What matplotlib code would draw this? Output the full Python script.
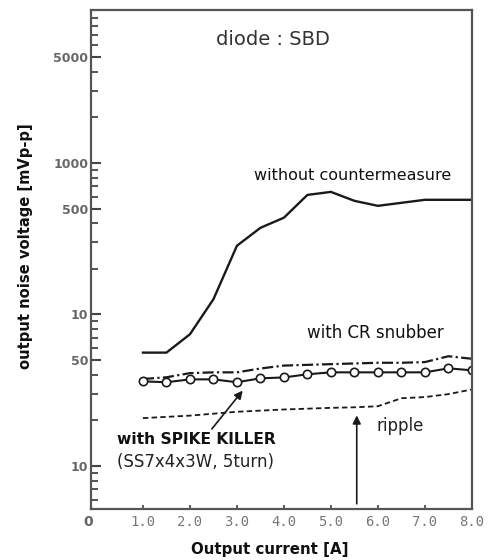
import numpy as np
import matplotlib
matplotlib.use("Agg")
import matplotlib.pyplot as plt
from matplotlib.ticker import FixedLocator, NullFormatter, LogLocator

# Output current [A]
current_plain = [1.0, 1.5, 2.0, 2.5, 3.0, 3.5, 4.0, 4.5, 5.0, 5.5, 6.0, 7.0, 8.0]
noise_plain = [56, 56, 74, 126, 284, 373, 435, 615, 644, 562, 521, 571, 571]

current_cr = [1.0, 1.5, 2.0, 2.5, 3.0, 3.5, 4.0, 4.5, 5.0, 5.5, 6.0, 6.5, 7.0, 7.5, 8.0]
noise_cr = [37.5, 38.5, 41, 41.5, 41.5, 44, 46, 46.5, 47, 47.5, 48, 48, 48.5, 53, 51]

current_sk = [1.0, 1.5, 2.0, 2.5, 3.0, 3.5, 4.0, 4.5, 5.0, 5.5, 6.0, 6.5, 7.0, 7.5, 8.0]
noise_sk = [36.2, 35.7, 37.3, 37.3, 35.7, 37.9, 38.4, 40.3, 41.5, 41.5, 41.5, 41.5, 41.5, 44.1, 42.8]

current_ripple = [1.0, 2.0, 3.0, 4.0, 5.0, 5.5, 6.0, 6.5, 7.0, 7.5, 8.0]
noise_ripple = [20.7, 21.5, 22.8, 23.6, 24.2, 24.4, 24.8, 28, 28.5, 29.8, 32]

y_ticks = [5000, 1000, 500, 100, 50, 10]
y_tick_labels = ["5000", "1000", "500", "10", "50", "10"]
x_ticks = [1.0, 2.0, 3.0, 4.0, 5.0, 6.0, 7.0, 8.0]
x_tick_labels = ["1.0", "2.0", "3.0", "4.0", "5.0", "6.0", "7.0", "8.0"]

fig = plt.figure(figsize=(4.89, 5.6), dpi=100)
ax = fig.add_axes([0.186, 0.091, 0.779, 0.891])
ax.set_yscale("log")
ax.set_xlim(-0.106, 8.0)
ax.set_ylim(5.2, 10200)

ink = "#1a1a1a"
ax.plot(current_plain, noise_plain, color=ink, lw=1.7)
ax.plot(current_cr, noise_cr, color=ink, lw=1.6, linestyle=(0, (5, 1.5, 1, 1.5)))
ax.plot(current_sk, noise_sk, color=ink, lw=1.5, marker="o", markersize=6,
        markerfacecolor="white", markeredgecolor=ink, markeredgewidth=1.2)
ax.plot(current_ripple, noise_ripple, color=ink, lw=1.3, linestyle=(0, (3, 1.8)))

for s in ax.spines.values():
    s.set_color("#555555")
    s.set_linewidth(1.6)

ax.yaxis.set_major_locator(FixedLocator(y_ticks))
ax.set_yticklabels(y_tick_labels)
ax.yaxis.set_minor_locator(LogLocator(base=10, subs=np.arange(2, 10)))
ax.yaxis.set_minor_formatter(NullFormatter())
ax.tick_params(axis="y", which="major", direction="in", length=7, width=1.5,
               colors="#444444", labelsize=9, pad=2)
ax.tick_params(axis="y", which="minor", direction="in", length=5, width=1.3,
               colors="#444444")
for lbl in ax.get_yticklabels():
    lbl.set_fontfamily("DejaVu Sans Condensed")
    lbl.set_fontweight("bold")
    lbl.set_color("#666666")

ax.set_xticks(x_ticks)
ax.set_xticklabels(x_tick_labels)
ax.tick_params(axis="x", which="major", direction="in", length=3, width=1.2,
               colors="#444444", labelsize=10, pad=4)
for lbl in ax.get_xticklabels():
    lbl.set_fontfamily("DejaVu Sans Mono")
    lbl.set_color("#777777")

ax.text(-0.008, -0.012, "0", transform=ax.transAxes, ha="center", va="top",
        fontsize=10, fontweight="bold", color="#666666")

ax.set_ylabel("output noise voltage [mVp-p]", fontsize=10.6, fontweight="bold",
              fontfamily="DejaVu Sans Condensed", color="#111111")
ax.yaxis.set_label_coords(-0.152, 0.527)
ax.set_xlabel("Output current [A]", fontsize=10.8, fontweight="bold",
              fontfamily="DejaVu Sans Condensed", color="#111111")
ax.xaxis.set_label_coords(0.47, -0.066)

ax.text(3.77, 6490, "diode : SBD", ha="center", va="center", fontsize=14,
        color="#333333")
ax.text(5.47, 830, "without countermeasure", ha="center", va="center",
        fontsize=11.5, color="#111111")
ax.text(5.94, 75.5, "with CR snubber", ha="center", va="center",
        fontsize=12, color="#111111")
ax.text(6.47, 18.5, "ripple", ha="center", va="center", fontsize=12,
        color="#222222")
ax.text(0.45, 15.0, "with SPIKE KILLER", ha="left", va="center",
        fontsize=11.2, fontweight="bold", fontfamily="DejaVu Sans Condensed",
        color="#111111")
ax.text(0.45, 10.7, "(SS7x4x3W, 5turn)", ha="left", va="center",
        fontsize=12, color="#222222")

# arrows pointing at the SPIKE KILLER curve and the ripple curve
ax.annotate("", xy=(3.16, 32.5), xytext=(2.43, 17.0),
            arrowprops=dict(arrowstyle="-|>", color=ink, lw=1.2,
                            mutation_scale=12))
ax.annotate("", xy=(5.55, 22.5), xytext=(5.55, 5.4),
            arrowprops=dict(arrowstyle="-|>", color=ink, lw=1.2,
                            mutation_scale=12))

fig.savefig("out.png", dpi=100)
